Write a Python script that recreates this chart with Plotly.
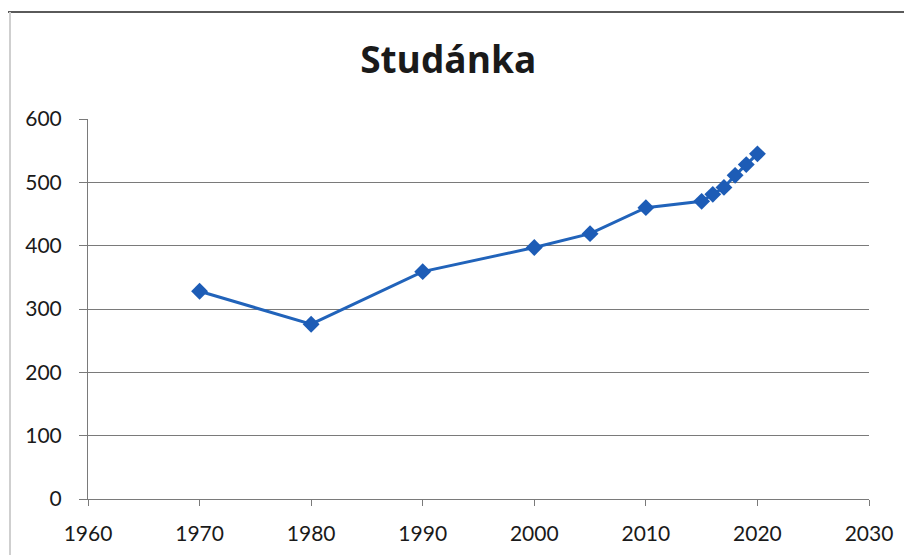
import plotly.graph_objects as go

years = [1970, 1980, 1990, 2000, 2005, 2010, 2015, 2016, 2017, 2018, 2019, 2020]
population = [328, 276, 359, 397, 419, 460, 470, 481, 492, 511, 528, 545]
title_text = "Studánka"

# page body has an 8px default margin; work in figure coordinates
OFF = 8
W, H = 912, 555
L, T = 88 - OFF, 119 - OFF
R = W - (869 - OFF)
B = H - (499 - OFF)
pw, ph = W - L - R, H - T - B

def px(x):
    return (x - OFF - L) / pw

def py(y):
    return (H - B - (y - OFF)) / ph

fig = go.Figure()
fig.add_trace(go.Scatter(
    x=years, y=population, mode="lines+markers",
    line=dict(color="#2163BA", width=3),
    marker=dict(symbol="diamond", size=13, color="#1D5CB6"),
    showlegend=False,
))

fig.update_layout(
    width=W, height=H,
    margin=dict(l=L, r=R, t=T, b=B),
    paper_bgcolor="white", plot_bgcolor="white",
    title=dict(text="<b>" + title_text + "</b>", x=px(465), xanchor="center",
               y=(H - (60 - OFF)) / H, yanchor="middle", yref="container",
               font=dict(family="Open Sans", size=37, color="#1a1a1a")),
    xaxis=dict(range=[1960, 2030], tickmode="linear", tick0=1960, dtick=10,
               showgrid=False, showline=True, linecolor="#7a7a7a", linewidth=1,
               ticks="outside", ticklen=6, tickcolor="#7a7a7a",
               ticklabelstandoff=10,
               tickfont=dict(family="Lato", size=21, color="#1a1a1a"),
               zeroline=False, fixedrange=True),
    yaxis=dict(range=[0, 600], tickmode="linear", tick0=0, dtick=100,
               showgrid=True, gridcolor="#7a7a7a", gridwidth=1,
               showline=True, linecolor="#7a7a7a", linewidth=1,
               ticks="outside", ticklen=8, tickcolor="#7a7a7a",
               ticklabelstandoff=13,
               tickfont=dict(family="Lato", size=21, color="#1a1a1a"),
               zeroline=False, fixedrange=True),
    shapes=[
        dict(type="line", xref="paper", yref="paper", x0=px(8), x1=px(930),
             y0=py(12), y1=py(12), line=dict(color="#5a5a5a", width=2)),
        dict(type="line", xref="paper", yref="paper", x0=px(10), x1=px(10),
             y0=py(12), y1=py(570), line=dict(color="#cfcfcf", width=2)),
    ],
)

fig.write_html("out.html")
